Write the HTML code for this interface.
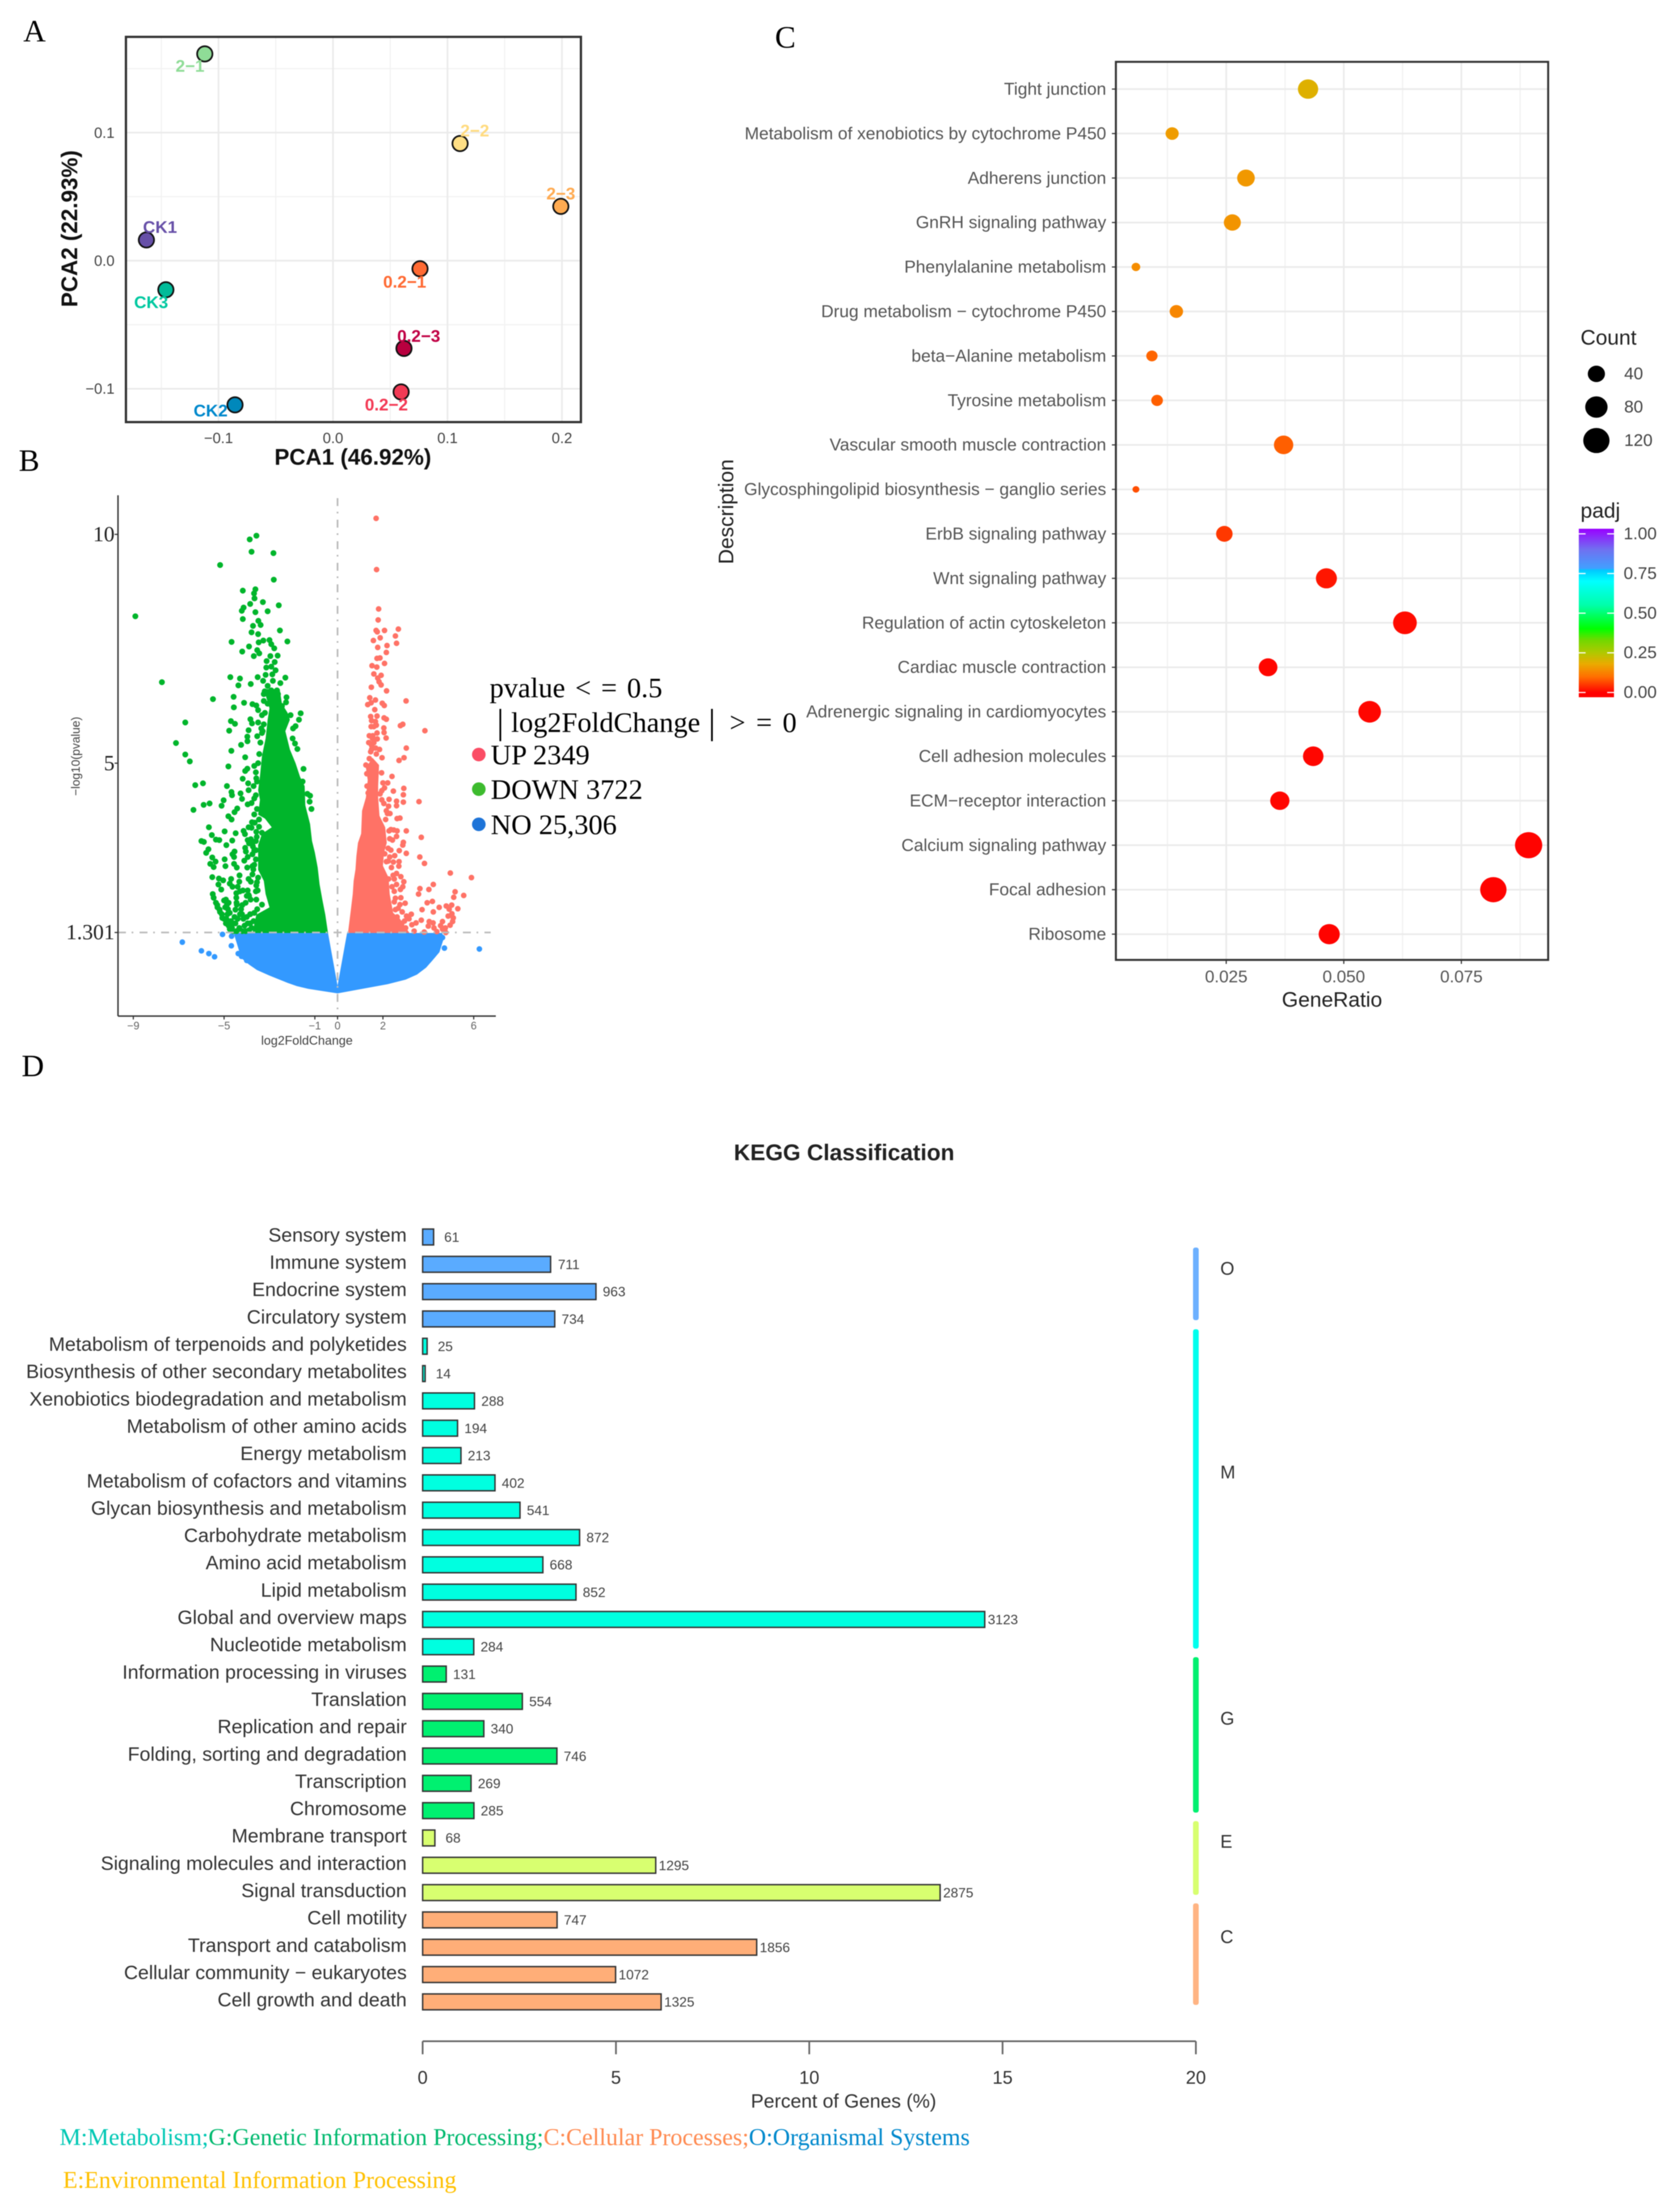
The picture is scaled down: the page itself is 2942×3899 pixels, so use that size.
<!DOCTYPE html>
<html lang="en">
<head>
<meta charset="utf-8">
<title>Transcriptome analysis figure</title>
<style>
html,body{margin:0;padding:0;background:#fff;}
svg{display:block;filter:blur(0.7px);}
text{font-family:"Liberation Sans",sans-serif;}
.serif{font-family:"Liberation Serif",serif;}
.tagline{font-family:"Liberation Serif",serif;font-size:42.2px;}
</style>
</head>
<body>
<svg id="figure" xmlns="http://www.w3.org/2000/svg" width="2942" height="3899" viewBox="0 0 2942 3899">
<rect width="2942" height="3899" fill="#fff"/>

<text class="serif" x="41" y="73" font-size="55">A</text>
<text class="serif" x="33" y="830" font-size="55">B</text>
<text class="serif" x="1366" y="84" font-size="55">C</text>
<text class="serif" x="38" y="1897" font-size="55">D</text>

<g id="pca">
  <g id="pca-grid"></g>
  <g id="pca-marks"></g>
  <rect x="222" y="65" width="802" height="679" fill="none" stroke="#333" stroke-width="4"/>
  <text x="622" y="806" font-size="39.5" font-weight="bold" fill="#111" text-anchor="middle" dominant-baseline="central">PCA1 (46.92%)</text>
  <text transform="translate(123,403) rotate(-90)" font-size="39.5" font-weight="bold" fill="#111" text-anchor="middle" dominant-baseline="central">PCA2 (22.93%)</text>
</g>

<g id="volcano">
  <g id="volcano-marks"></g>
  <line x1="208" y1="873" x2="208" y2="1791" stroke="#333" stroke-width="2.5"/>
  <line x1="208" y1="1791" x2="874" y2="1791" stroke="#333" stroke-width="2.5"/>
  <g id="volcano-ticks"></g>
  <text x="541" y="1834" font-size="22" fill="#444" text-anchor="middle" dominant-baseline="central">log2FoldChange</text>
  <text transform="translate(134,1333) rotate(-90)" font-size="21" fill="#444" text-anchor="middle" dominant-baseline="central">−log10(pvalue)</text>
  <g class="serif">
    <text class="serif" x="863" y="1212" font-size="50" word-spacing="5" dominant-baseline="central">pvalue &lt; = 0.5</text>
    <text class="serif" x="882" y="1273" font-size="62" text-anchor="middle" dominant-baseline="central">|</text>
    <text class="serif" x="901" y="1273" font-size="50" dominant-baseline="central">log2FoldChange</text>
    <text class="serif" x="1255" y="1273" font-size="62" text-anchor="middle" dominant-baseline="central">|</text>
    <text class="serif" x="1286" y="1273" font-size="50" word-spacing="6" dominant-baseline="central">&gt; = 0</text>
    <circle cx="844" cy="1330" r="12" fill="#fb4d65"/>
    <text class="serif" x="865" y="1330" font-size="50" dominant-baseline="central">UP 2349</text>
    <circle cx="844" cy="1391" r="12" fill="#3dbb2e"/>
    <text class="serif" x="865" y="1391" font-size="50" dominant-baseline="central">DOWN 3722</text>
    <circle cx="844" cy="1453" r="12" fill="#1e74d8"/>
    <text class="serif" x="865" y="1453" font-size="50" dominant-baseline="central">NO 25,306</text>
  </g>
</g>

<g id="dot">
  <g id="dot-grid"></g>
  <g id="dot-marks"></g>
  <rect x="1967" y="109" width="762" height="1583" fill="none" stroke="#333" stroke-width="3.5"/>
  <g id="dot-ticks"></g>
  <text x="2348" y="1762" font-size="37" fill="#222" text-anchor="middle" dominant-baseline="central">GeneRatio</text>
  <text transform="translate(1280,902) rotate(-90)" font-size="37" fill="#222" text-anchor="middle" dominant-baseline="central">Description</text>
  <text x="2786" y="595" font-size="37" fill="#222" dominant-baseline="central">Count</text>
  <g id="count-legend"></g>
  <text x="2786" y="900" font-size="37" fill="#222" dominant-baseline="central">padj</text>
  <defs><linearGradient id="padjGradient" x1="0" y1="1" x2="0" y2="0"></linearGradient></defs>
  <rect x="2783" y="932" width="62" height="297" fill="url(#padjGradient)"/>
  <g id="padj-legend"></g>
</g>

<g id="kegg">
  <text x="1488" y="2032" font-size="40" font-weight="bold" fill="#222" text-anchor="middle" dominant-baseline="central">KEGG Classification</text>
  <g id="kegg-bars"></g>
  <line x1="745" y1="3598" x2="2108" y2="3598" stroke="#666" stroke-width="3"/>
  <g id="kegg-ticks"></g>
  <text x="1487" y="3704" font-size="34" fill="#333" text-anchor="middle" dominant-baseline="central">Percent of Genes (%)</text>
  <g>
    <rect x="2103" y="2199" width="10" height="128" rx="4" fill="#6cb0ff"/>
    <rect x="2103" y="2343" width="10" height="563" rx="4" fill="#00ffee"/>
    <rect x="2103" y="2921" width="10" height="274" rx="4" fill="#00f070"/>
    <rect x="2103" y="3210" width="10" height="130" rx="4" fill="#d8ff70"/>
    <rect x="2103" y="3355" width="10" height="179" rx="4" fill="#ffb483"/>
    <text x="2151" y="2236" font-size="32" fill="#333" dominant-baseline="central">O</text>
    <text x="2151" y="2595" font-size="32" fill="#333" dominant-baseline="central">M</text>
    <text x="2151" y="3029" font-size="32" fill="#333" dominant-baseline="central">G</text>
    <text x="2151" y="3246" font-size="32" fill="#333" dominant-baseline="central">E</text>
    <text x="2151" y="3414" font-size="32" fill="#333" dominant-baseline="central">C</text>
  </g>
  <text class="tagline" x="105" y="3767" dominant-baseline="central"><tspan fill="#00c8b4">M:Metabolism;</tspan><tspan fill="#00b96e">G:Genetic Information Processing;</tspan><tspan fill="#ff8a50">C:Cellular Processes;</tspan><tspan fill="#0088cc">O:Organismal Systems</tspan></text>
  <text class="tagline" x="111" y="3843" fill="#ffc000" dominant-baseline="central">E:Environmental Information Processing</text>
</g>

<script>
/* ---------- PCA data ---------- */
const pcaSamples = ['2−1','2−2','2−3','CK1','CK3','0.2−1','0.2−3','0.2−2','CK2'];
const pca1Values = [-0.112,0.111,0.199,-0.163,-0.146,0.076,0.062,0.0595,-0.0856];
const pca2Values = [0.1615,0.0915,0.0424,0.0162,-0.0227,-0.0063,-0.0685,-0.1025,-0.1126];
const pcaXTicks = [-0.1,0,0.1,0.2];
const pcaYTicks = [-0.1,0,0.1];
const pcaTickLabelsX = ['−0.1','0.0','0.1','0.2'];
const pcaTickLabelsY = ['−0.1','0.0','0.1'];

/* ---------- Volcano data (log2FoldChange, -log10 pvalue) ---------- */
const volcanoXTicks = [-9,-5,-1,0,2,6];
const volcanoYTicks = [10,5,1.301];
const volcanoThreshold = 1.301;
const noEnvelope = [[-4.58,1.29],[-4.24,0.74],[-3.9,0.6],[-3.55,0.48],[-3,0.36],[-2.2,0.2],[-1.8,0.13],[-1.29,0.07],[0,-0.03],[1.43,0.1],[2.2,0.17],[3.0,0.27],[3.5,0.38],[3.9,0.53],[4.2,0.7],[4.49,0.87],[4.7,1.2],[4.6,1.29],[0.42,1.29],[0,0.14],[-0.42,1.29]];
const noPoints = [[-5.07,1.26],[-4.67,1.22],[-4.68,1.01],[-6.84,1.09],[-6.0,0.9],[-5.67,0.84],[-5.42,0.77],[-4.375,0.84],[-4.23,0.78],[-4.0,0.69],[6.25,0.94],[4.71,0.96],[4.625,1.19]];
const downEnvelope = [[-3.25,6.62],[-2.55,6.62],[-2.45,6.3],[-2.2,6.1],[-2.1,5.95],[-2.3,5.7],[-2.1,5.3],[-1.85,5.0],[-1.65,4.7],[-1.45,4.5],[-1.42,4.08],[-1.21,3.67],[-1.125,3.3],[-1.0,3.05],[-0.875,2.72],[-0.79,2.35],[-0.67,2.02],[-0.54,1.69],[-0.42,1.29],[-3.75,1.29],[-3.58,1.69],[-3.0,1.85],[-3.17,2.14],[-3.25,2.43],[-3.5,2.67],[-3.5,3.21],[-3.33,3.46],[-2.9,3.6],[-3.2,3.79],[-3.5,3.875],[-3.42,4.2],[-3.5,4.41],[-3.42,4.71],[-3.33,5.16],[-3.17,5.54],[-3.08,5.95],[-3.0,6.2]];
const downPoints = [[-3.575,9.97],[-3.87,9.89],[-3.79,9.62],[-2.825,9.59],[-5.175,9.33],[-2.81,9.01],[-4.175,8.77],[-3.62,8.8],[-3.68,8.71],[-3.66,8.6],[-3.85,8.48],[-3.29,8.52],[-2.59,8.45],[-4.14,8.4],[-4.22,8.33],[-3.62,8.3],[-3.08,8.32],[-4.175,8.15],[-8.91,8.21],[-3.49,8.11],[-3.725,8.0],[-3.39,8.02],[-3.79,7.86],[-3.5,7.82],[-2.54,7.9],[-4.67,7.65],[-3.475,7.64],[-3.27,7.68],[-3.0,7.69],[-2.21,7.66],[-2.92,7.6],[-3.9,7.55],[-2.79,7.51],[-4.2,7.44],[-3.54,7.47],[-3.45,7.4],[-3.69,7.34],[-2.96,7.34],[-2.64,7.35],[-3.125,7.23],[-2.77,7.21],[-3.14,7.09],[-2.92,7.11],[-2.73,7.03],[-4.725,6.88],[-4.3,6.85],[-3.52,6.88],[-3.17,6.93],[-2.875,6.94],[-2.3,6.87],[-3.28,6.8],[-2.85,6.8],[-7.74,6.77],[-3.825,6.73],[-4.37,6.7],[-2.52,6.75],[-3.08,6.69],[-3.21,6.57],[-2.92,6.59],[-2.67,6.59],[-3.25,6.51],[-2.625,6.51],[-3.0,6.5],[-2.8,6.5],[-4.58,6.45],[-5.49,6.4],[-2.25,6.44],[-3.25,6.36],[-4.12,6.32],[-2.27,6.33],[-4.57,6.22],[-3.75,6.29],[-3.58,6.26],[-3.08,6.3],[-2.45,6.25],[-3.5,6.16],[-1.625,6.09],[-3.33,6.05],[-2.07,6.05],[-1.7,5.95],[-3.84,5.96],[-6.71,5.89],[-4.7,5.92],[-4.52,5.86],[-3.77,5.87],[-3.5,5.89],[-1.85,5.81],[-1.96,5.76],[-4.775,5.71],[-3.92,5.72],[-3.36,5.76],[-3.33,5.66],[-3.54,5.59],[-3.975,5.58],[-3.97,5.48],[-1.98,5.54],[-7.12,5.44],[-4.25,5.4],[-1.875,5.43],[-1.77,5.31],[-4.68,5.27],[-6.71,5.19],[-4.07,5.13],[-6.51,5.04],[-4.81,4.93],[-3.67,4.94],[-3.975,4.88],[-4.07,4.83],[-1.5,4.875],[-3.58,4.67],[-4.18,4.66],[-3.94,4.56],[-5.93,4.56],[-6.27,4.52],[-4.875,4.5],[-1.54,4.6],[-4.675,4.37],[-4.65,4.3],[-4.275,4.34],[-4.21,4.22],[-3.92,4.41],[-5.02,4.19],[-5.64,4.12],[-5.9,4.09],[-5.11,4.07],[-6.35,3.98],[-3.96,4.1],[-3.79,4.13],[-3.67,4.23],[-1.33,4.33],[-1.21,4.29],[-1.23,4.16],[-1.15,4.0],[-4.42,4.01],[-4.54,3.93],[-4.81,3.84],[-4.67,3.77],[-3.67,3.88],[-3.46,3.77],[-3.77,3.71],[-5.67,3.6],[-3.92,3.6],[-3.79,3.59],[-3.46,3.61],[-4.975,3.51],[-4.49,3.47],[-4.14,3.52],[-4.08,3.45],[-3.58,3.5],[-3.33,3.48],[-5.54,3.43],[-5.36,3.33],[-5.21,3.32],[-3.56,3.39],[-4.64,3.31],[-6.0,3.3],[-5.89,3.28],[-3.96,3.32],[-3.82,3.34],[-4.9,3.21],[-3.9,3.25],[-3.73,3.18],[-4.07,3.15],[-5.69,3.12],[-5.79,3.04],[-4.04,3.07],[-4.54,3.07],[-4.63,3.01],[-4.56,2.95],[-3.67,3.09],[-3.75,3.01],[-5.52,2.94],[-4.975,2.9],[-3.96,2.95],[-5.375,2.85],[-4.11,2.87],[-5.61,2.8],[-5.46,2.73],[-4.94,2.75],[-4.56,2.8],[-4.44,2.72],[-3.98,2.72],[-3.67,2.78],[-3.71,2.68],[-4.32,2.55],[-3.75,2.57],[-5.52,2.51],[-5.23,2.48],[-5.04,2.44],[-4.69,2.47],[-4.33,2.41],[-3.92,2.47],[-3.82,2.41],[-3.58,2.33],[-5.25,2.35],[-4.75,2.37],[-4.63,2.3],[-5.125,2.24],[-3.52,2.22],[-3.96,2.22],[-4.17,2.22],[-4.46,2.16],[-3.92,2.12],[-5.5,2.14],[-5.46,2.06],[-4.46,2.06],[-3.83,2.02],[-3.58,2.02],[-4.92,2.02],[-5.36,1.95],[-4.44,1.91],[-3.33,1.91],[-4.875,1.91],[-5.29,1.85],[-4.83,1.81],[-4.25,1.81],[-3.54,1.81],[-5.18,1.75],[-4.75,1.73],[-4.21,1.7],[-3.67,1.73],[-5.08,1.62],[-4.54,1.64],[-4.0,1.64],[-3.5,1.56],[-4.92,1.5],[-4.5,1.5],[-3.96,1.5],[-4.75,1.375],[-4.33,1.4],[-3.79,1.4],[-4.6,1.33],[-4.45,1.33],[-4.2,1.33],[-4.05,1.33],[-3.9,1.35],[-5.3,1.9],[-5.2,1.8],[-5.1,1.7],[-5.0,1.6],[-4.9,1.6],[-4.85,1.7],[-4.95,1.85],[-5.0,2.0],[-4.8,1.95],[-4.7,1.55],[-4.65,1.4],[-4.8,1.45],[-4.6,1.5],[-4.4,1.6],[-4.3,1.7],[-4.15,1.6],[-4.1,1.45],[-4.2,1.9],[-4.0,2.1],[-4.05,1.95],[-3.9,2.1],[-4.3,2.2],[-4.4,2.3],[-4.5,1.8],[-4.45,1.95],[-3.85,1.5],[-3.7,1.55],[-3.85,1.7],[-3.6,2.2],[-3.55,2.4],[-3.5,2.5],[-3.75,2.75],[-3.6,2.9],[-3.6,3.1],[-3.6,3.3],[-3.75,3.25],[-3.65,3.7],[-3.55,4.0],[-3.6,4.3],[-3.7,4.5],[-3.55,4.6],[-3.6,4.8],[-3.5,5.0],[-3.45,5.2],[-3.4,5.45],[-3.3,5.7],[-3.25,5.85],[-3.2,6.1]];
const upEnvelope = [[0.46,1.29],[0.58,1.77],[0.67,2.14],[0.71,2.43],[0.79,2.68],[0.83,2.97],[0.9,3.26],[1.04,3.46],[1.08,3.96],[1.25,4.25],[1.33,4.63],[1.25,4.9],[1.54,5.12],[1.83,4.96],[1.79,4.5],[1.79,4.25],[1.85,3.85],[2.1,3.6],[2.17,3.26],[2.05,3.05],[2.0,2.76],[2.25,2.5],[2.3,2.14],[2.45,1.73],[2.75,1.6],[3.17,1.29]];
const upPoints = [[1.7,10.35],[1.72,9.23],[1.81,8.37],[1.79,8.13],[1.7,7.9],[1.75,7.87],[2.07,7.9],[2.68,7.93],[2.55,7.78],[1.88,7.74],[1.58,7.68],[2.6,7.62],[2.18,7.57],[1.77,7.53],[2.15,7.42],[1.87,7.3],[1.74,7.29],[2.07,7.18],[1.52,7.13],[1.73,7.1],[1.6,6.95],[1.92,6.92],[1.77,6.86],[1.83,6.78],[1.92,6.71],[1.49,6.66],[2.16,6.58],[1.42,6.43],[1.67,6.38],[3.02,6.36],[1.48,6.32],[1.33,6.28],[1.97,6.31],[2.06,6.26],[1.64,6.17],[1.46,6.02],[1.74,6.03],[2.05,5.99],[2.15,5.96],[1.5,5.93],[1.67,5.91],[2.875,5.85],[2.77,5.82],[1.48,5.8],[1.71,5.83],[2.04,5.77],[3.85,5.71],[2.05,5.67],[1.74,5.66],[2.14,5.55],[1.54,5.54],[1.75,5.53],[1.375,5.45],[1.5,5.39],[1.68,5.33],[3.03,5.33],[1.46,5.25],[1.71,5.2],[1.96,5.12],[2.93,5.12],[2.71,5.06],[1.25,4.96],[1.94,4.79],[1.29,4.77],[2.4,4.71],[2.0,4.57],[2.21,4.57],[2.07,4.46],[2.46,4.39],[2.92,4.45],[2.9,4.31],[1.875,4.33],[2.27,4.21],[2.6,4.17],[2.9,4.15],[3.59,4.16],[2.04,4.12],[2.25,4.06],[2.6,4.07],[2.15,3.96],[2.31,3.9],[2.12,3.77],[2.625,3.79],[2.75,3.8],[3.03,3.52],[2.27,3.52],[2.48,3.54],[2.625,3.52],[3.69,3.38],[2.6,3.4],[2.42,3.32],[2.9,3.27],[2.875,3.21],[2.23,3.14],[2.72,3.09],[3.03,3.03],[2.52,2.98],[2.08,3.02],[3.625,2.95],[2.23,2.86],[2.46,2.84],[2.71,2.85],[3.83,2.81],[2.375,2.72],[2.6,2.59],[2.79,2.52],[4.97,2.6],[5.9,2.5],[2.25,2.47],[2.5,2.47],[2.92,2.41],[4.22,2.35],[2.875,2.3],[4.025,2.24],[3.63,2.26],[2.77,2.24],[2.5,2.2],[3.57,2.14],[5.18,2.19],[5.56,2.11],[5.12,2.07],[2.79,2.06],[2.5,1.97],[2.98,1.94],[4.18,1.98],[3.95,1.95],[2.75,1.91],[4.79,1.88],[5.03,1.9],[4.48,1.85],[5.3,1.82],[4.92,1.81],[3.725,1.8],[4.22,1.75],[2.67,1.83],[3.25,1.7],[3.04,1.66],[3.15,1.6],[2.625,1.64],[5.04,1.71],[4.875,1.66],[5.1,1.62],[3.69,1.57],[5.07,1.54],[4.625,1.54],[4.04,1.54],[4.21,1.51],[3.46,1.51],[3.275,1.47],[2.83,1.5],[4.0,1.44],[4.54,1.45],[4.96,1.46],[4.25,1.4],[4.75,1.4],[4.625,1.375],[3.375,1.33],[3.82,1.31],[4.375,1.32],[4.77,1.3],[2.2,3.9],[2.35,3.55],[2.3,3.35],[2.35,3.1],[2.3,2.95],[2.15,2.85],[2.45,2.55],[2.4,2.3],[2.55,2.05],[2.7,2.75],[2.6,2.35],[2.85,1.75],[2.95,1.55],[3.0,1.4],[2.55,1.8],[1.95,4.4],[1.95,4.2],[1.3,4.5],[1.35,4.35],[1.4,5.1],[1.5,5.3],[1.55,5.6],[1.4,5.6],[1.6,5.8],[1.6,5.45],[1.85,5.3]];

/* ---------- KEGG enrichment dot plot data ---------- */
const pathways = ['Tight junction','Metabolism of xenobiotics by cytochrome P450','Adherens junction','GnRH signaling pathway','Phenylalanine metabolism','Drug metabolism − cytochrome P450','beta−Alanine metabolism','Tyrosine metabolism','Vascular smooth muscle contraction','Glycosphingolipid biosynthesis − ganglio series','ErbB signaling pathway','Wnt signaling pathway','Regulation of actin cytoskeleton','Cardiac muscle contraction','Adrenergic signaling in cardiomyocytes','Cell adhesion molecules','ECM−receptor interaction','Calcium signaling pathway','Focal adhesion','Ribosome'];
const geneRatios = [0.0424,0.0135,0.0292,0.0263,0.0058,0.0144,0.0092,0.0103,0.0372,0.0058,0.0246,0.0463,0.063,0.0339,0.0555,0.0435,0.0364,0.0893,0.0818,0.0469];
const geneCounts = [62,20,43,39,9,21,14,15,55,8,36,68,93,50,82,64,54,132,121,69];
const padjValues = [0.195,0.16,0.155,0.15,0.14,0.13,0.09,0.085,0.085,0.07,0.05,0.02,0.01,0.005,0.005,0.005,0.005,0.003,0.003,0.003];
const ratioTicks = [0.025,0.05,0.075];
const ratioTickLabels = ['0.025','0.050','0.075'];
const ratioMinorTicks = [0.0125,0.0375,0.0625,0.0875];
const countLegendValues = [40,80,120];
const padjTicks = [1,0.75,0.5,0.25,0];
const padjTickLabels = ['1.00','0.75','0.50','0.25','0.00'];
const padjStops = [0,0.1,0.18,0.25,0.33,0.4,0.55,0.7,0.77,0.78,0.9,1.03];
const padjColors = ['#ff0000','#ff7000','#eaaa00','#b0c800','#70d800','#00ff00','#00ffaa','#00ffff','#00c8ff','#40a0ff','#7070f0','#9900ff'];

/* ---------- KEGG classification data ---------- */
const keggCategories = ['Sensory system','Immune system','Endocrine system','Circulatory system','Metabolism of terpenoids and polyketides','Biosynthesis of other secondary metabolites','Xenobiotics biodegradation and metabolism','Metabolism of other amino acids','Energy metabolism','Metabolism of cofactors and vitamins','Glycan biosynthesis and metabolism','Carbohydrate metabolism','Amino acid metabolism','Lipid metabolism','Global and overview maps','Nucleotide metabolism','Information processing in viruses','Translation','Replication and repair','Folding, sorting and degradation','Transcription','Chromosome','Membrane transport','Signaling molecules and interaction','Signal transduction','Cell motility','Transport and catabolism','Cellular community − eukaryotes','Cell growth and death'];
const keggCounts = [61,711,963,734,25,14,288,194,213,402,541,872,668,852,3123,284,131,554,340,746,269,285,68,1295,2875,747,1856,1072,1325];
const keggGroups = ['O','O','O','O','M','M','M','M','M','M','M','M','M','M','M','M','G','G','G','G','G','G','E','E','E','C','C','C','C'];
const keggTotalGenes = 21480;
const keggTicks = [0,5,10,15,20];

/* ---------- helpers ---------- */
const NS = 'http://www.w3.org/2000/svg';
function add(parent, tag, attrs, content) {
  const el = document.createElementNS(NS, tag);
  for (const k in attrs) el.setAttribute(k, attrs[k]);
  if (content !== undefined) el.textContent = content;
  parent.appendChild(el);
  return el;
}
const byId = id => document.getElementById(id);

/* ---------- panel A: PCA ---------- */
const pcaX = v => 587 + 2018 * v;
const pcaY = v => 459.5 - 2257 * v;
const pcaFill = ['#8fdc97','#ffdf85','#ffab52','#6750a8','#00bb99','#ff6a33','#b8003f','#f23a55','#0088bb'];
const pcaLabelColor = ['#8fdc97','#ffdb80','#ffab52','#6750a8','#00c8a0','#ff6a33','#c00044','#f33a55','#0088cc'];
const pcaLabelOffset = [[-26,22],[26,-22],[0,-22],[24,-22],[-26,23],[-27,24],[26,-21],[-26,23],[-43,11]];
const pcaGrid = byId('pca-grid');
[-0.15,-0.05,0.05,0.15].forEach(v => {
  const ln = add(pcaGrid,'line',{x1:pcaX(v),x2:pcaX(v),y1:65,y2:744,stroke:'#f2f2f2','stroke-width':2});
  
  
});
[-0.05,0.05,0.15].forEach(v => {
  const ln = add(pcaGrid,'line',{x1:222,x2:1024,y1:pcaY(v),y2:pcaY(v),stroke:'#f2f2f2','stroke-width':2});
  
  
});
pcaXTicks.forEach((v,i) => {
  const ln = add(pcaGrid,'line',{x1:pcaX(v),x2:pcaX(v),y1:65,y2:744,stroke:'#ebebeb','stroke-width':3});
  
  
  const t = add(pcaGrid,'text',{x:pcaX(v),y:772,'font-size':26,fill:'#444','text-anchor':'middle','dominant-baseline':'central'},pcaTickLabelsX[i]);
  
  
});
pcaYTicks.forEach((v,i) => {
  const ln = add(pcaGrid,'line',{x1:222,x2:1024,y1:pcaY(v),y2:pcaY(v),stroke:'#ebebeb','stroke-width':3});
  
  
  const t = add(pcaGrid,'text',{x:202,y:pcaY(v),'font-size':26,fill:'#444','text-anchor':'end','dominant-baseline':'central'},pcaTickLabelsY[i]);
  
  
});
const pcaMarks = byId('pca-marks');
pcaSamples.forEach((name,i) => {
  const c = add(pcaMarks,'circle',{cx:pcaX(pca1Values[i]),cy:pcaY(pca2Values[i]),r:13.5,fill:pcaFill[i],stroke:'#111','stroke-width':3});
  
  
});
pcaSamples.forEach((name,i) => {
  const t = add(pcaMarks,'text',{x:pcaX(pca1Values[i])+pcaLabelOffset[i][0],y:pcaY(pca2Values[i])+pcaLabelOffset[i][1],'font-size':30,'font-weight':'bold',fill:pcaLabelColor[i],'text-anchor':'middle','dominant-baseline':'central'},name);
  
  
});

/* ---------- panel B: volcano ---------- */
const volX = v => 595 + 40 * v;
const volY = v => 1748.6 - 80.67 * v;
const volMarks = byId('volcano-marks');
const envPoints = env => env.map(p => volX(p[0]).toFixed(1) + ',' + volY(p[1]).toFixed(1)).join(' ');
const noShape = add(volMarks,'polygon',{points:envPoints(noEnvelope),fill:'#3399ff'});


noPoints.forEach(p => {
  const c = add(volMarks,'circle',{cx:volX(p[0]),cy:volY(p[1]),r:5,fill:'#3399ff'});
  
  
});
const downShape = add(volMarks,'polygon',{points:envPoints(downEnvelope),fill:'#00b52b'});


downPoints.forEach(p => {
  const c = add(volMarks,'circle',{cx:volX(p[0]),cy:volY(p[1]),r:5.2,fill:'#00b52b'});
  
  
});
const upShape = add(volMarks,'polygon',{points:envPoints(upEnvelope),fill:'#ff7266'});


upPoints.forEach(p => {
  const c = add(volMarks,'circle',{cx:volX(p[0]),cy:volY(p[1]),r:5,fill:'#ff7266'});
  
  
});
const vLine = add(volMarks,'line',{x1:volX(0),x2:volX(0),y1:878,y2:1785,stroke:'#bcbcbc','stroke-width':3,'stroke-dasharray':'14 10 3 11'});


const hLine = add(volMarks,'line',{x1:208,x2:865,y1:volY(volcanoThreshold),y2:volY(volcanoThreshold),stroke:'#bcbcbc','stroke-width':3,'stroke-dasharray':'14 10 3 11'});


const volTicks = byId('volcano-ticks');
volcanoXTicks.forEach(v => {
  const m = add(volTicks,'line',{x1:volX(v),x2:volX(v),y1:1791,y2:1797,stroke:'#333','stroke-width':2});
  
  
  const t = add(volTicks,'text',{x:volX(v),y:1809,'font-size':19,fill:'#666','text-anchor':'middle','dominant-baseline':'central'},String(v).replace('-','−'));
  
  
});
volcanoYTicks.forEach(v => {
  const m = add(volTicks,'line',{x1:202,x2:208,y1:volY(v),y2:volY(v),stroke:'#333','stroke-width':2});
  
  
  const t = add(volTicks,'text',{class:'serif',x:202,y:volY(v),'font-size':38,fill:'#222','text-anchor':'end','dominant-baseline':'central'},String(v));
  
  
});

/* ---------- panel C: dot plot ---------- */
const ratioX = v => 2161.5 + (v - 0.025) * 8290;
const rowY = i => 157 + i * 78.4;
const sizeR = c => 6 + 18 * Math.sqrt(Math.max(0,(c - 8) / 124));
function hexRgb(h){return [1,3,5].map(i=>parseInt(h.substr(i,2),16));}
function padjColor(v){
  let k = 0;
  while (k < padjStops.length - 2 && v > padjStops[k+1]) k++;
  const f = Math.min(1,Math.max(0,(v - padjStops[k]) / (padjStops[k+1] - padjStops[k])));
  const a = hexRgb(padjColors[k]), b = hexRgb(padjColors[k+1]);
  return 'rgb(' + a.map((c,j)=>Math.round(c + (b[j]-c)*f)).join(',') + ')';
}
const dotGrid = byId('dot-grid');
ratioMinorTicks.forEach(v => {
  const ln = add(dotGrid,'line',{x1:ratioX(v),x2:ratioX(v),y1:109,y2:1692,stroke:'#f0f0f0','stroke-width':2});
  
  
});
ratioTicks.forEach(v => {
  const ln = add(dotGrid,'line',{x1:ratioX(v),x2:ratioX(v),y1:109,y2:1692,stroke:'#ebebeb','stroke-width':3});
  
  
});
const dotTicks = byId('dot-ticks');
ratioTicks.forEach((v,i) => {
  const m = add(dotTicks,'line',{x1:ratioX(v),x2:ratioX(v),y1:1692,y2:1699,stroke:'#333','stroke-width':2});
  
  
  const t = add(dotTicks,'text',{x:ratioX(v),y:1722,'font-size':30,fill:'#555','text-anchor':'middle','dominant-baseline':'central'},ratioTickLabels[i]);
  
  
});
const dotMarks = byId('dot-marks');
pathways.forEach((name,i) => {
  const ln = add(dotGrid,'line',{x1:1967,x2:2729,y1:rowY(i),y2:rowY(i),stroke:'#ebebeb','stroke-width':3});
  
  
  const m = add(dotTicks,'line',{x1:1960,x2:1967,y1:rowY(i),y2:rowY(i),stroke:'#333','stroke-width':2});
  
  
  const t = add(dotTicks,'text',{x:1950,y:rowY(i),'font-size':30.5,fill:'#555','text-anchor':'end','dominant-baseline':'central'},name);
  
  
  const r = sizeR(geneCounts[i]);
  const c = add(dotMarks,'ellipse',{cx:ratioX(geneRatios[i]),cy:rowY(i),rx:r,ry:r*0.96,fill:padjColor(padjValues[i])});
  
  
});
const countLegend = byId('count-legend');
const countLegendY = [659,717.5,776.5];
countLegendValues.forEach((v,i) => {
  const r = sizeR(v);
  const c = add(countLegend,'ellipse',{cx:2814,cy:countLegendY[i],rx:r,ry:r*0.96,fill:'#000'});
  
  
  const t = add(countLegend,'text',{x:2863,y:countLegendY[i],'font-size':30,fill:'#444','dominant-baseline':'central'},String(v));
  
  
});
const grad = byId('padjGradient');
padjStops.forEach((s,i) => {
  const st = add(grad,'stop',{offset:((s + 0.03) / 1.06).toFixed(4),'stop-color':padjColors[i]});
  
  
});
const padjY = v => 1220.6 - 279.6 * v;
const padjLegend = byId('padj-legend');
padjTicks.forEach((v,i) => {
  const a = add(padjLegend,'line',{x1:2783,x2:2795,y1:padjY(v),y2:padjY(v),stroke:'#fff','stroke-width':2});
  
  
  const b = add(padjLegend,'line',{x1:2833,x2:2845,y1:padjY(v),y2:padjY(v),stroke:'#fff','stroke-width':2});
  
  
  const t = add(padjLegend,'text',{x:2862,y:padjY(v),'font-size':30,fill:'#444','dominant-baseline':'central'},padjTickLabels[i]);
  
  
});

/* ---------- panel D: KEGG classification ---------- */
const pctX = v => 745 + 68.15 * v;
const keggRow = i => 2180.4 + i * 48.15;
const groupFill = {O:'#5aabff',M:'#00ffe0',G:'#00f070',E:'#d8ff70',C:'#ffae78'};
const keggBars = byId('kegg-bars');
keggCategories.forEach((name,i) => {
  const end = pctX(keggCounts[i] / keggTotalGenes * 100);
  const y = keggRow(i);
  const t = add(keggBars,'text',{x:717,y:y-3,'font-size':34.3,fill:'#333','text-anchor':'end','dominant-baseline':'central'},name);
  
  
  const b = add(keggBars,'rect',{x:745,y:y-14,width:end-745,height:28,fill:groupFill[keggGroups[i]],stroke:'#333','stroke-width':2.5});
  
  
  const v = add(keggBars,'text',{x:end+32,y:y+1,'font-size':24,fill:'#444','text-anchor':'middle','dominant-baseline':'central'},String(keggCounts[i]));
  
  
});
const keggTickGroup = byId('kegg-ticks');
keggTicks.forEach(v => {
  const m = add(keggTickGroup,'line',{x1:pctX(v),x2:pctX(v),y1:3598,y2:3621,stroke:'#666','stroke-width':3});
  
  
  const t = add(keggTickGroup,'text',{x:pctX(v),y:3662,'font-size':32,fill:'#333','text-anchor':'middle','dominant-baseline':'central'},String(v));
  
  
});
</script>
</svg>
</body>
</html>
